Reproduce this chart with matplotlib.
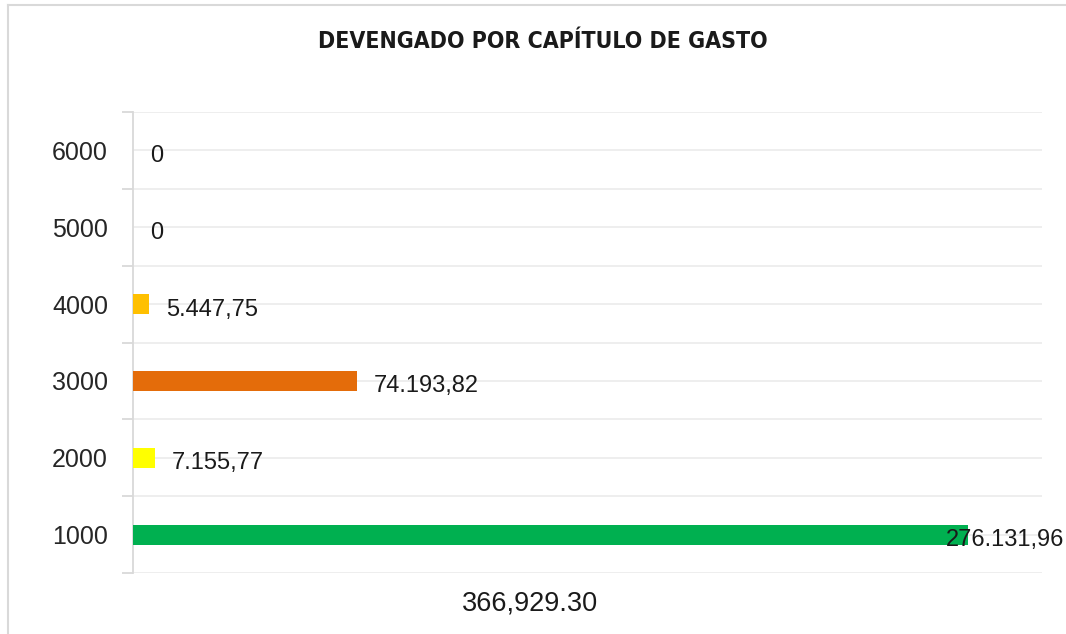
import matplotlib
matplotlib.use("Agg")
import matplotlib.pyplot as plt
from matplotlib.lines import Line2D

# chart data
capitulos = ["1000", "2000", "3000", "4000", "5000", "6000"]
devengado = [276131.96, 7155.77, 74193.82, 5447.75, 0, 0]
etiquetas = ["276.131,96", "7.155,77", "74.193,82", "5.447,75", "0", "0"]
colores = ["#00b050", "#ffff00", "#e46c0a", "#ffc000", "#4472c4", "#4472c4"]
titulo = "DEVENGADO POR CAPÍTULO DE GASTO"
total_txt = "366,929.30"

plt.rcParams['font.family'] = ['Liberation Sans', 'DejaVu Sans']

fig = plt.figure(figsize=(10.66, 6.34), dpi=100)
ax = fig.add_axes([133/1066, 1 - 573/634, (1042-133)/1066, (573-112)/634])

pos = list(range(len(capitulos)))
ax.barh(pos, devengado, height=0.26, color=colores, zorder=3)

ax.set_xlim(0, 300600)
ax.set_ylim(-0.5, len(capitulos) - 0.5)

# gridlines at centers and boundaries
for k in range(2 * len(capitulos) + 1):
    ax.axhline(-0.5 + 0.5 * k, color="#ebebeb", lw=1.2, zorder=1)

for s in ["top", "right", "bottom"]:
    ax.spines[s].set_visible(False)
ax.spines["left"].set_color("#d9d9d9")
ax.spines["left"].set_linewidth(1.3)

ax.set_xticks([])
ax.set_yticks([p - 0.5 for p in pos] + [len(pos) - 0.5])
ax.set_yticklabels([])
ax.tick_params(axis="y", which="major", length=8, color="#d9d9d9", width=1.3)
ax.set_yticks(pos, minor=True)
ax.set_yticklabels(capitulos, minor=True, fontsize=18, color="#262626")
ax.tick_params(axis="y", which="minor", length=0, pad=18)

# value labels
for i, (v, t) in enumerate(zip(devengado, etiquetas)):
    dx = 12 if v < 200000 else -16
    ax.annotate(t, (v, i), xytext=(dx, -4), textcoords="offset points",
                ha="left", va="center", fontsize=17, color="#1a1a1a",
                zorder=4, annotation_clip=False)

ax.set_xlabel(total_txt, fontsize=19.5, color="#1a1a1a")
ax.xaxis.set_label_coords((530 - 133) / 909, -0.037)

fig.text(543/1066, 1 - 42/634, titulo, ha="center", va="center",
         fontsize=16.6, fontweight="bold", fontstretch="condensed",
         family=["DejaVu Sans"], color="#1a1a1a")

# outer frame (top and left visible)
fig.add_artist(Line2D([8/1066, 8/1066], [0, 1 - 5/634], transform=fig.transFigure,
                      color="#d9d9d9", lw=1.5))
fig.add_artist(Line2D([8/1066, 1], [1 - 5/634, 1 - 5/634], transform=fig.transFigure,
                      color="#d9d9d9", lw=1.5))

fig.savefig("out.png", dpi=100)
